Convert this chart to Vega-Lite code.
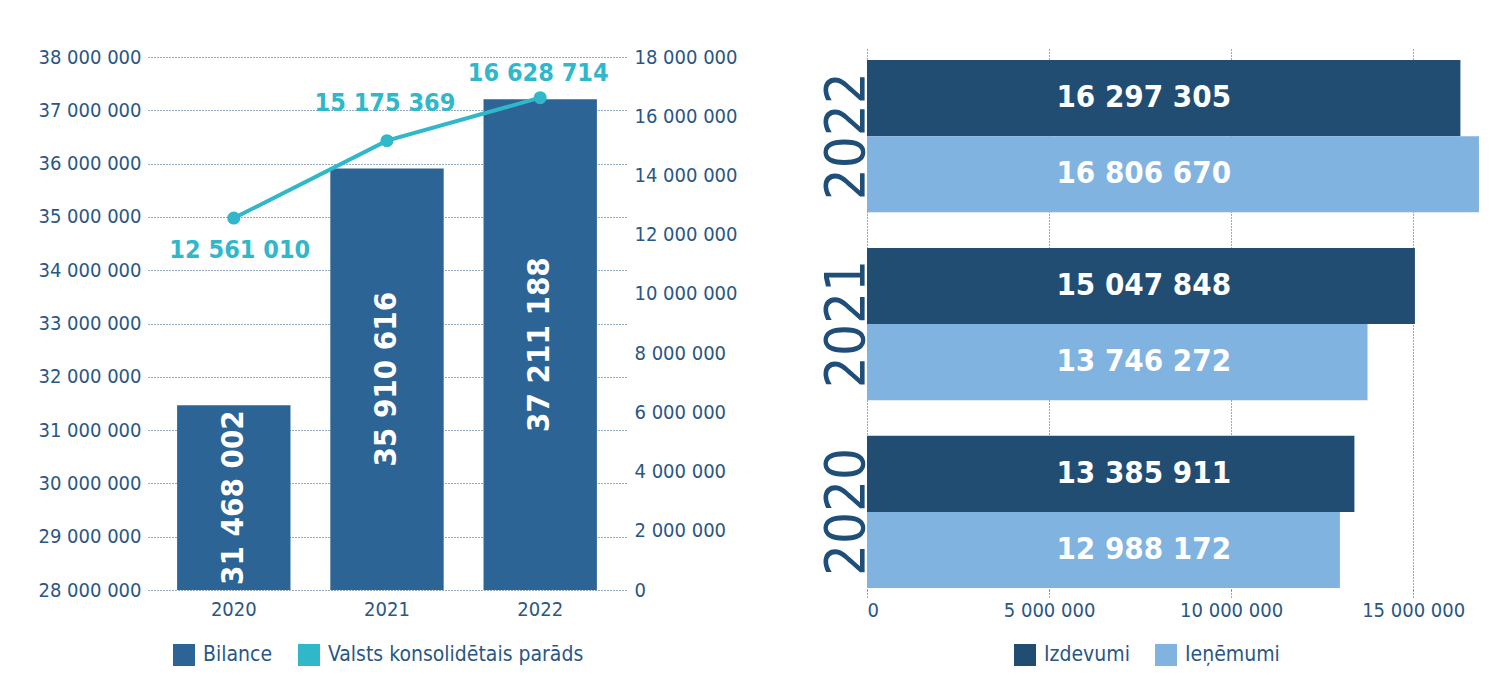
{
  "$schema": "https://vega.github.io/schema/vega-lite/v6.json",
  "background": "white",
  "padding": {"left": 38, "top": 47, "right": 5, "bottom": 5},
  "spacing": 80,
  "config": {
    "font": "DejaVu Sans Condensed",
    "locale": {"number": {"decimal": ",", "thousands": " ", "grouping": [3], "currency": ["", ""]}},
    "view": {"stroke": null},
    "axis": {"labelFont": "DejaVu Sans Condensed", "labelColor": "#2a5784", "domain": false, "ticks": false, "grid": false, "title": null, "gridColor": "#2a5784", "gridDash": [1, 2], "gridWidth": 1, "tickColor": "#2a5784"},
    "legend": {"orient": "none", "direction": "horizontal", "symbolType": "square", "symbolSize": 484, "symbolStrokeWidth": 0, "symbolOpacity": 1, "labelFont": "DejaVu Sans Condensed", "labelFontSize": 21, "labelColor": "#2a5784", "labelOffset": 8, "columnPadding": 25, "labelLimit": 400}
  },
  "resolve": {"scale": {"color": "independent"}, "legend": {"color": "independent"}},
  "hconcat": [
    {
      "width": 478,
      "height": 543,
      "data": {"values": [
        {"year": "2020", "Bilance": 31468002, "Parads": 12561010},
        {"year": "2021", "Bilance": 35910616, "Parads": 15175369},
        {"year": "2022", "Bilance": 37211188, "Parads": 16628714}
      ]},
      "encoding": {
        "x": {"field": "year", "type": "ordinal", "scale": {"paddingInner": 0.26, "paddingOuter": 0.19}, "axis": {"labelAngle": 0, "labelFontSize": 20, "labelPadding": 9}}
      },
      "layer": [
        {
          "encoding": {
            "y": {"type": "quantitative", "scale": {"domain": [28000000, 38190000], "nice": false, "zero": false},
              "axis": {"grid": true, "labelFontSize": 20, "labelPadding": 7, "format": ",d", "values": [28000000, 29000000, 30000000, 31000000, 32000000, 33000000, 34000000, 35000000, 36000000, 37000000, 38000000]}}
          },
          "layer": [
            {
              "mark": {"type": "bar", "clip": true},
              "encoding": {
                "y": {"field": "Bilance", "type": "quantitative"},
                "color": {"datum": "Bilance", "scale": {"domain": ["Bilance", "Valsts konsolidētais parāds"], "range": ["#2c6495", "#30b8ca"]}, "legend": {"title": null, "legendX": 25, "legendY": 597}}
              }
            },
            {
              "transform": [{"calculate": "(datum.Bilance + 28000000) / 2", "as": "labelPos"}],
              "mark": {"type": "text", "angle": 270, "fontSize": 31, "fontWeight": "bold", "color": "white", "align": "center", "baseline": "middle"},
              "encoding": {
                "y": {"field": "labelPos", "type": "quantitative"},
                "text": {"field": "Bilance", "type": "quantitative", "format": ",d"}
              }
            }
          ]
        },
        {
          "encoding": {
            "y": {"field": "Parads", "type": "quantitative", "scale": {"domain": [0, 18340000], "nice": false},
              "axis": {"orient": "right", "labelFontSize": 20, "labelPadding": 8, "format": ",d", "values": [0, 2000000, 4000000, 6000000, 8000000, 10000000, 12000000, 14000000, 16000000, 18000000]}}
          },
          "layer": [
            {"mark": {"type": "line", "color": "#30b8ca", "strokeWidth": 4}, "encoding": {}},
            {
              "mark": {"type": "point", "filled": true, "size": 170, "opacity": 1},
              "encoding": {"color": {"datum": "Valsts konsolidētais parāds", "legend": {"title": null, "legendX": 25, "legendY": 597}}}
            },
            {
              "transform": [{"filter": "datum.year == '2020'"}],
              "mark": {"type": "text", "fontSize": 25, "fontWeight": "bold", "color": "#30b8ca", "dy": 32, "dx": 6},
              "encoding": {"text": {"field": "Parads", "type": "quantitative", "format": ",d"}}
            },
            {
              "transform": [{"filter": "datum.year == '2021'"}],
              "mark": {"type": "text", "fontSize": 25, "fontWeight": "bold", "color": "#30b8ca", "dy": -38, "dx": -2},
              "encoding": {"text": {"field": "Parads", "type": "quantitative", "format": ",d"}}
            },
            {
              "transform": [{"filter": "datum.year == '2022'"}],
              "mark": {"type": "text", "fontSize": 25, "fontWeight": "bold", "color": "#30b8ca", "dy": -25, "dx": -2},
              "encoding": {"text": {"field": "Parads", "type": "quantitative", "format": ",d"}}
            }
          ]
        }
      ],
      "resolve": {"scale": {"y": "independent"}}
    },
    {
      "width": 619,
      "height": 543,
      "data": {"values": [
        {"year": "2022", "series": "Izdevumi", "value": 16297305},
        {"year": "2022", "series": "Ieņēmumi", "value": 16806670},
        {"year": "2021", "series": "Izdevumi", "value": 15047848},
        {"year": "2021", "series": "Ieņēmumi", "value": 13746272},
        {"year": "2020", "series": "Izdevumi", "value": 13385911},
        {"year": "2020", "series": "Ieņēmumi", "value": 12988172}
      ]},
      "encoding": {
        "y": {"field": "year", "type": "nominal", "sort": ["2022", "2021", "2020"],
          "scale": {"paddingInner": 0.19, "paddingOuter": 0.04, "align": 0.87},
          "axis": {"labelAngle": 270, "labelFontSize": 56, "labelColor": "#1f4e79", "labelBaseline": "alphabetic", "labelAlign": "center", "labelPadding": 4}},
        "yOffset": {"field": "series", "type": "nominal", "sort": ["Izdevumi", "Ieņēmumi"], "scale": {"paddingInner": 0, "paddingOuter": 0}}
      },
      "layer": [
        {
          "mark": {"type": "bar"},
          "encoding": {
            "x": {"field": "value", "type": "quantitative", "scale": {"domain": [0, 17000000], "nice": false},
              "axis": {"grid": true, "ticks": true, "tickDash": [1, 2], "tickSize": 7, "labelPadding": 3, "labelFontSize": 20, "format": ",d", "values": [0, 5000000, 10000000, 15000000]}},
            "color": {"field": "series", "type": "nominal", "sort": ["Izdevumi", "Ieņēmumi"], "scale": {"domain": ["Izdevumi", "Ieņēmumi"], "range": ["#214d72", "#80b3e0"]}, "legend": {"title": null, "legendX": 147, "legendY": 597}}
          }
        },
        {
          "mark": {"type": "text", "fontSize": 31, "fontWeight": "bold", "color": "white", "align": "center", "baseline": "middle"},
          "encoding": {
            "x": {"datum": 7600000, "type": "quantitative"},
            "text": {"field": "value", "type": "quantitative", "format": ",d"}
          }
        }
      ]
    }
  ]
}
